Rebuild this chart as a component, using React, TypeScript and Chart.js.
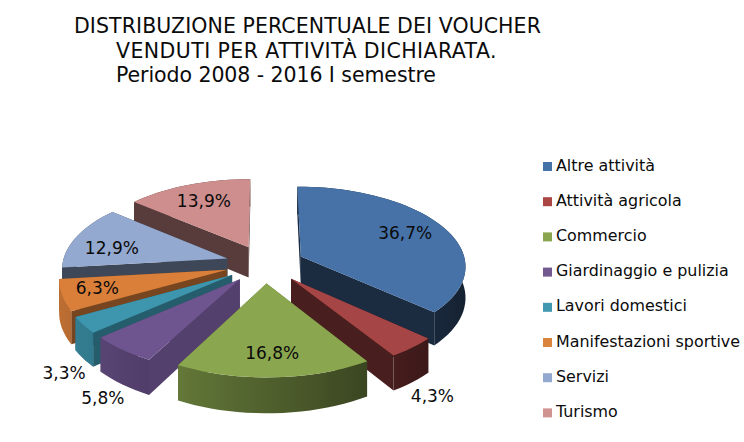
import React, { useEffect, useRef } from "react";
import { Chart, registerables } from "chart.js";

Chart.register(...registerables);

const categories = ["Altre attività", "Attività agricola", "Commercio", "Giardinaggio e pulizia", "Lavori domestici", "Manifestazioni sportive", "Servizi", "Turismo"];
const shares = [36.7, 4.3, 16.8, 5.8, 3.3, 6.3, 12.9, 13.9];
const titleLines = ["DISTRIBUZIONE PERCENTUALE DEI VOUCHER", "VENDUTI PER ATTIVITÀ DICHIARATA.", "Periodo 2008 - 2016 I semestre"];

const topColors = ["#4672A8", "#A64545", "#8AA64E", "#6F5590", "#3E96AE", "#D97F3A", "#93A9CF", "#CE8E8D"];
const legendColors = ["#4572A7", "#AA4643", "#89A54E", "#71588F", "#4198AF", "#DB843D", "#93A9CF", "#D19392"];
const edgeShade = [0.38, 0.44, 0.7, 0.75, 0.62, 0.55, 0.42, 0.42];
const rimLimit = [1, 1, 1, 1, 1, 1, 0.42, 0.42];
const paintOrder = [7, 6, 0, 5, 4, 3, 1, 2];
const labelRadius = [0.97, 1.39, 1.02, 1.39, 1.36, 1.03, 1.0, 0.96];
const labelDrop = [0, 1.1, 0, 1.08, 1.28, 0, 0.25, 0.05];
const titleX = [74, 116, 116];
const titleY = [33, 58, 82];
const titleSpacing = [0.08, 0.42, -0.07];

// Camera of the 3D pie
const CX = 265, CY = 264, RX = 165, RY = 79, PERSP = 0.11, EXPLODE = 0.24, DEPTH = 31;
const FONT = '"DejaVu Sans", Verdana, sans-serif';

const project = (u: number, v: number, drop = 0) => {
  const s = 1 / (1 - PERSP * v);
  return { x: CX + RX * u * s, y: CY + RY * v * s + DEPTH * drop * s };
};

const shade = (hex: string, f: number) => {
  const n = parseInt(hex.slice(1), 16);
  const c = [(n >> 16) & 255, (n >> 8) & 255, n & 255].map((x) => Math.round(x * f));
  return `rgb(${c[0]},${c[1]},${c[2]})`;
};

const rimFactor = (ang: number, i: number) => Math.min(rimLimit[i], 0.58 - 0.3 * Math.sin(ang + Math.PI / 2));

const pie3d = {
  id: "pie3d",
  beforeDraw(chart: any) {
    const { ctx, width, height } = chart;
    ctx.save();
    ctx.fillStyle = "#fff";
    ctx.fillRect(0, 0, width, height);
    ctx.restore();
  },
  beforeDatasetDraw(chart: any) {
    const { ctx } = chart;
    const arcs = chart.getDatasetMeta(0).data;
    const poly = (pts: { x: number; y: number }[], color: any) => {
      ctx.beginPath();
      pts.forEach((p, i) => (i ? ctx.lineTo(p.x, p.y) : ctx.moveTo(p.x, p.y)));
      ctx.closePath();
      ctx.fillStyle = color;
      ctx.fill();
    };
    ctx.save();
    paintOrder.forEach((i) => {
      const a = arcs[i];
      const mid = (a.startAngle + a.endAngle) / 2;
      const ox = Math.cos(mid) * EXPLODE, oy = Math.sin(mid) * EXPLODE;
      const steps = Math.max(4, Math.ceil((a.endAngle - a.startAngle) / 0.05));
      const rim: number[] = [];
      for (let k = 0; k <= steps; k++) rim.push(a.startAngle + ((a.endAngle - a.startAngle) * k) / steps);
      const P = (ang: number, drop = 0) => project(ox + Math.cos(ang), oy + Math.sin(ang), drop);
      const T = (drop = 0) => project(ox, oy, drop);
      const edge = shade(topColors[i], edgeShade[i]);
      poly([T(), P(a.startAngle), P(a.startAngle, 1), T(1)], edge);
      poly([T(), P(a.endAngle), P(a.endAngle, 1), T(1)], edge);

      const front = rim
        .filter((r) => Math.sin(r) > -0.02)
        .map((r) => ({ x: P(r).x, c: shade(topColors[i], rimFactor(r, i)) }))
        .sort((p, q) => p.x - q.x);
      let wall: any = shade(topColors[i], rimFactor(mid, i));
      if (front.length > 1) {
        const x0 = front[0].x, x1 = front[front.length - 1].x;
        wall = ctx.createLinearGradient(x0, 0, x1, 0);
        front.forEach((s) => wall.addColorStop((s.x - x0) / (x1 - x0), s.c));
      }
      poly([...rim.map((r) => P(r)), ...rim.slice().reverse().map((r) => P(r, 1))], wall);
      poly([T(), ...rim.map((r) => P(r))], topColors[i]);
    });
    ctx.restore();
    return false;
  },
  afterDraw(chart: any) {
    const { ctx } = chart;
    const arcs = chart.getDatasetMeta(0).data;
    ctx.save();
    ctx.fillStyle = "#0b0b0b";
    ctx.textBaseline = "alphabetic";
    ctx.textAlign = "left";
    ctx.font = `20.5px ${FONT}`;
    titleLines.forEach((line, i) => {
      ctx.letterSpacing = `${titleSpacing[i]}px`;
      ctx.fillText(line, titleX[i], titleY[i]);
    });
    ctx.letterSpacing = "0px";
    // legend
    ctx.font = `15.9px ${FONT}`;
    ctx.textBaseline = "middle";
    categories.forEach((c, i) => {
      const y = 166.5 + i * 35.2;
      ctx.fillStyle = legendColors[i];
      ctx.fillRect(543, y - 4.5, 9, 9);
      ctx.fillStyle = "#0b0b0b";
      ctx.fillText(c, 556, y);
    });
    // data labels
    ctx.font = `17px ${FONT}`;
    ctx.textAlign = "center";
    arcs.forEach((a: any, i: number) => {
      const mid = (a.startAngle + a.endAngle) / 2;
      const p = project(Math.cos(mid) * labelRadius[i], Math.sin(mid) * labelRadius[i], labelDrop[i]);
      ctx.fillText(shares[i].toFixed(1).replace(".", ",") + "%", p.x, p.y);
    });
    ctx.restore();
  },
};

export default function App() {
  const ref = useRef<HTMLCanvasElement>(null);
  useEffect(() => {
    const canvas = ref.current!;
    canvas.getContext("2d", { alpha: false });
    const chart = new Chart(canvas, {
      type: "pie",
      data: { labels: categories, datasets: [{ data: shares, backgroundColor: topColors, borderWidth: 0 }] },
      options: {
        responsive: false,
        animation: false,
        devicePixelRatio: 1,
        plugins: { legend: { display: false }, tooltip: { enabled: false } },
      },
      plugins: [pie3d],
    } as any);
    return () => chart.destroy();
  }, []);
  return (
    <div style={{ position: "absolute", left: 0, top: 0, width: 744, height: 442 }}>
      <canvas ref={ref} width={744} height={442} style={{ display: "block" }} />
    </div>
  );
}
